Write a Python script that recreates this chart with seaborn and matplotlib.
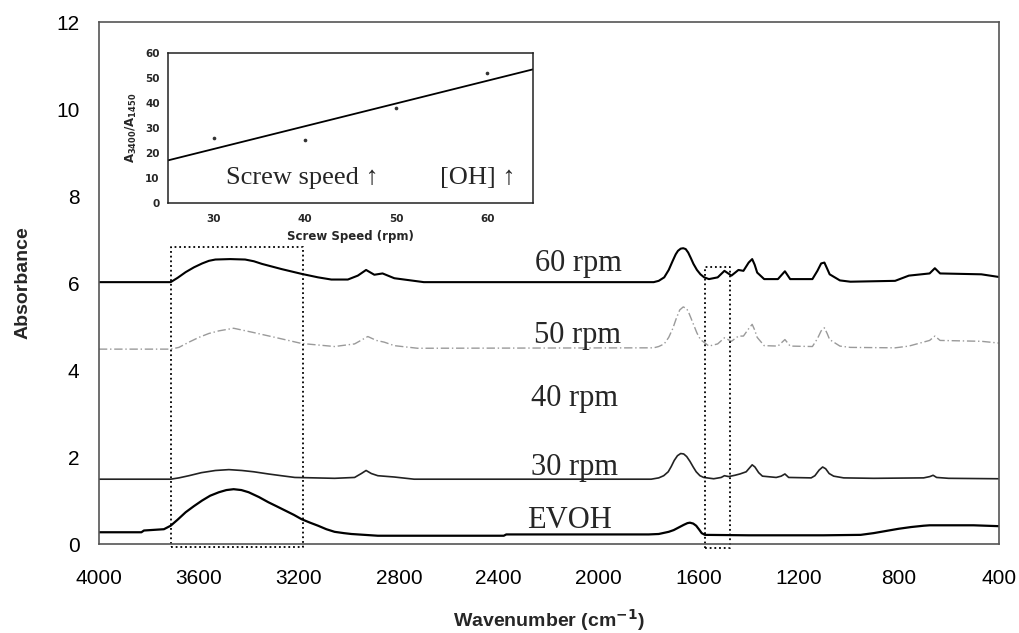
import matplotlib
matplotlib.use("Agg")
import matplotlib.pyplot as plt
import pandas as pd
import seaborn as sns

# FTIR spectra (stacked), wavenumber in cm-1 vs absorbance
evoh_wn = [4000, 3830, 3820, 3740, 3713, 3685, 3653, 3620, 3587, 3555, 3520, 3490, 3461, 3430,
           3401, 3360, 3322, 3290, 3255, 3220, 3189, 3155, 3123, 3090, 3057, 3020, 2990, 2884,
           2380, 2370, 1800, 1760, 1720, 1700, 1680, 1660, 1645, 1635, 1622, 1610, 1598, 1588,
           1575, 1400, 1100, 952, 900, 850, 800, 750, 700, 676, 500, 400]
evoh_ab = [0.27, 0.27, 0.31, 0.34, 0.42, 0.56, 0.73, 0.87, 1.00, 1.11, 1.19, 1.24, 1.26, 1.24,
           1.19, 1.08, 0.96, 0.87, 0.77, 0.67, 0.57, 0.49, 0.42, 0.34, 0.28, 0.25, 0.23, 0.19,
           0.19, 0.22, 0.22, 0.23, 0.28, 0.32, 0.38, 0.44, 0.48, 0.49, 0.47, 0.42, 0.33, 0.25,
           0.21, 0.20, 0.20, 0.21, 0.25, 0.30, 0.35, 0.39, 0.42, 0.43, 0.43, 0.41]

rpm30_wn = [4000, 3713, 3680, 3640, 3590, 3534, 3480, 3428, 3380, 3322, 3270, 3216, 3057, 2977,
            2950, 2931, 2910, 2884, 2818, 2739, 1790, 1760, 1740, 1722, 1710, 1698, 1685, 1672,
            1660, 1648, 1635, 1622, 1610, 1595, 1580, 1540, 1510, 1497, 1480, 1455, 1435, 1410,
            1395, 1386, 1375, 1360, 1345, 1290, 1270, 1255, 1240, 1150, 1135, 1118, 1104, 1092,
            1078, 1060, 1020, 900, 700, 675, 662, 648, 600, 400]
rpm30_ab = [1.49, 1.49, 1.52, 1.57, 1.64, 1.69, 1.71, 1.69, 1.66, 1.61, 1.57, 1.53, 1.51, 1.53,
            1.62, 1.69, 1.62, 1.57, 1.54, 1.49, 1.49, 1.52, 1.57, 1.66, 1.78, 1.92, 2.03, 2.08,
            2.07, 2.01, 1.90, 1.77, 1.66, 1.57, 1.53, 1.50, 1.53, 1.57, 1.55, 1.58, 1.61, 1.66,
            1.76, 1.82, 1.77, 1.64, 1.56, 1.53, 1.56, 1.61, 1.53, 1.52, 1.57, 1.70, 1.77, 1.73,
            1.62, 1.56, 1.52, 1.51, 1.52, 1.55, 1.58, 1.53, 1.51, 1.50]

rpm50_wn = [4000, 3713, 3680, 3640, 3600, 3560, 3520, 3461, 3388, 3295, 3189, 3057, 2977, 2924,
            2890, 2858, 2818, 2725, 1780, 1760, 1738, 1720, 1704, 1690, 1676, 1662, 1650, 1642,
            1630, 1621, 1607, 1593, 1559, 1524, 1497, 1469, 1441, 1421, 1400, 1386, 1376, 1366,
            1338, 1283, 1255, 1234, 1145, 1125, 1110, 1097, 1086, 1076, 1035, 993, 814, 759, 676,
            655, 634, 469, 400]
rpm50_ab = [4.48, 4.48, 4.52, 4.64, 4.75, 4.84, 4.90, 4.96, 4.87, 4.75, 4.61, 4.54, 4.60, 4.77,
            4.68, 4.64, 4.56, 4.50, 4.51, 4.54, 4.60, 4.75, 4.95, 5.18, 5.38, 5.45, 5.42, 5.35,
            5.18, 5.05, 4.85, 4.70, 4.55, 4.60, 4.74, 4.66, 4.78, 4.78, 4.95, 5.05, 4.92, 4.75,
            4.56, 4.55, 4.70, 4.55, 4.54, 4.72, 4.90, 4.97, 4.84, 4.70, 4.55, 4.52, 4.51, 4.55,
            4.68, 4.78, 4.68, 4.66, 4.62]

rpm60_wn = [4000, 3713, 3685, 3653, 3620, 3587, 3560, 3534, 3475, 3415, 3380, 3348, 3269, 3189,
            3123, 3070, 3004, 2964, 2931, 2898, 2865, 2818, 2739, 2700, 1780, 1760, 1738, 1720,
            1704, 1692, 1683, 1672, 1662, 1652, 1642, 1632, 1621, 1607, 1593, 1578, 1559, 1524,
            1497, 1469, 1441, 1421, 1400, 1386, 1376, 1366, 1338, 1283, 1255, 1234, 1145, 1125,
            1110, 1097, 1086, 1076, 1035, 993, 814, 759, 676, 655, 634, 469, 400]
rpm60_ab = [6.02, 6.02, 6.12, 6.25, 6.36, 6.45, 6.51, 6.54, 6.55, 6.54, 6.50, 6.44, 6.32, 6.21,
            6.13, 6.08, 6.08, 6.17, 6.30, 6.19, 6.22, 6.11, 6.05, 6.02, 6.02, 6.05, 6.13, 6.30,
            6.51, 6.66, 6.74, 6.79, 6.80, 6.78, 6.70, 6.58, 6.44, 6.30, 6.20, 6.13, 6.09, 6.13,
            6.28, 6.17, 6.30, 6.28, 6.47, 6.55, 6.42, 6.24, 6.09, 6.09, 6.27, 6.09, 6.09, 6.28,
            6.45, 6.47, 6.33, 6.20, 6.06, 6.03, 6.05, 6.17, 6.22, 6.34, 6.22, 6.20, 6.14]

# curve labels: text, wavenumber, absorbance
label_text = ["60 rpm", "50 rpm", "40 rpm", "30 rpm", "EVOH"]
label_wn = [2083, 2086, 2097, 2097, 2117]
label_ab = [6.45, 4.80, 3.35, 1.75, 0.53]

# dotted analysis windows: (high wn, low wn, bottom, top)
band_oh = [3713, 3183, -0.08, 6.82]
band_ch = [1575, 1473, -0.085, 6.37]

# inset data: band ratio vs screw speed
speed = [30, 40, 50, 60]
ratio = [26, 25, 38, 52]

main_xticks = [4000, 3600, 3200, 2800, 2400, 2000, 1600, 1200, 800, 400]
main_yticks = [0, 2, 4, 6, 8, 10, 12]

sns.set_style("white")
plt.rcParams["font.family"] = ["Liberation Sans", "DejaVu Sans"]

fig = plt.figure(figsize=(10.2, 6.33), dpi=100)
ax = fig.add_axes([0.097, 0.1406, 0.882, 0.8246])

spectra = [
    (evoh_wn, evoh_ab, dict(color="black", lw=1.6)),
    (rpm30_wn, rpm30_ab, dict(color="#222222", lw=1.2)),
    (rpm50_wn, rpm50_ab, dict(color="#9a9a9a", lw=1.0, linestyle=(0, (6, 2, 1, 2)))),
    (rpm60_wn, rpm60_ab, dict(color="black", lw=1.5)),
]
for wn, ab, kw in spectra:
    df = pd.DataFrame({"wn": wn, "ab": ab})
    sns.lineplot(data=df, x="wn", y="ab", ax=ax, sort=False, **kw)

for txt, xw, ya in zip(label_text, label_wn, label_ab):
    ax.text(xw, ya, txt, ha="center", va="center", fontsize=22,
            family=["Liberation Serif", "DejaVu Serif"])

for hi, lo, b, t in (band_oh, band_ch):
    ax.plot([hi, lo, lo, hi, hi], [b, b, t, t, b], color="black", lw=1.3,
            linestyle=(0, (1, 1.6)), clip_on=False)

ax.set_xlim(4000, 400)
ax.set_ylim(0, 12)
ax.set_xticks(main_xticks)
ax.set_yticks(main_yticks)
ax.tick_params(axis="x", direction="out", length=6, width=1, colors="#444444",
               labelcolor="black", labelsize=15, pad=12)
ax.tick_params(axis="y", direction="in", length=6, width=1, colors="#444444",
               labelcolor="black", labelsize=15, pad=14)
for sp in ax.spines.values():
    sp.set_color("#555555")
    sp.set_linewidth(1.2)
ax.set_xlabel("Wavenumber (cm$^{\\mathbf{-1}}$)", fontsize=14, fontweight="bold", labelpad=14)
ax.set_ylabel("Absorbance", fontsize=14, fontweight="bold", labelpad=18)

# inset: A3400/A1450 against screw speed with linear fit
ax_in = fig.add_axes([0.1647, 0.6793, 0.3578, 0.237])
ax_in.set_facecolor("white")
ax_in.set_xlim(25, 65)
ax_in.set_ylim(0, 60)
sns.regplot(x=speed, y=ratio, ax=ax_in, ci=None, truncate=False,
            scatter_kws=dict(s=7, color="black", linewidths=0),
            line_kws=dict(color="black", lw=1.3))
ax_in.set_xlim(25, 65)
ax_in.set_ylim(0, 60)
ax_in.set_xticks([30, 40, 50, 60])
ax_in.set_xticks([25, 35, 45, 55, 65], minor=True)
ax_in.set_yticks([0, 10, 20, 30, 40, 50, 60])
ax_in.tick_params(axis="x", which="major", length=0, labelsize=7.5, pad=8)
ax_in.tick_params(axis="x", which="minor", length=3, direction="out", width=1)
ax_in.tick_params(axis="y", length=3, direction="out", width=1, labelsize=7.5, pad=3)
for lab in ax_in.get_xticklabels() + ax_in.get_yticklabels():
    lab.set_fontweight("bold")
    lab.set_family("DejaVu Sans")
for sp in ax_in.spines.values():
    sp.set_color("#222222")
    sp.set_linewidth(1.1)
ax_in.set_xlabel("Screw Speed (rpm)", fontsize=8.5, fontweight="bold", family="DejaVu Sans",
                 labelpad=4)
ax_in.set_ylabel(r"$\mathbf{A_{3400}/A_{1450}}$", fontsize=8.5, labelpad=4)
ax_in.text(0.158, 0.167, "Screw speed \u2191", transform=ax_in.transAxes, fontsize=19,
           ha="left", va="center", family=["Liberation Serif", "DejaVu Serif"])
ax_in.text(0.744, 0.167, "[OH] \u2191", transform=ax_in.transAxes, fontsize=19,
           ha="left", va="center", family=["Liberation Serif", "DejaVu Serif"])

fig.savefig("out.png", dpi=100)
